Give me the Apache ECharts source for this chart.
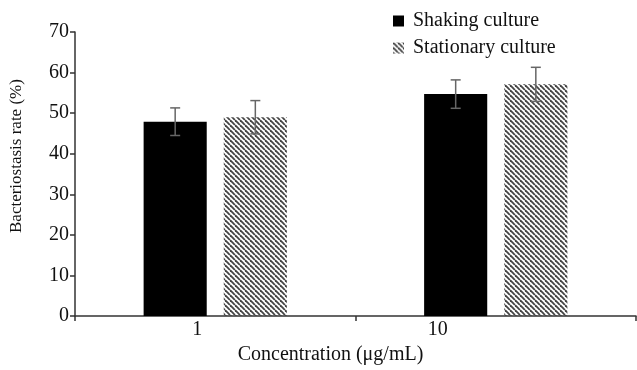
<!DOCTYPE html>
<html>
<head>
<meta charset="utf-8">
<script src="https://cdn.jsdelivr.net/npm/echarts@6/dist/echarts.min.js"></script>
<style>
  html, body { margin: 0; padding: 0; background: #fff; }
  #chart { width: 637px; height: 370px; }
</style>
</head>
<body>
<div id="chart"></div>
<script>
    // 浓度分组
    var categories = ["1", "10"];
    var shaking = [47.9, 54.7];
    var shakingErr = [3.4, 3.5];
    var stationary = [49.0, 57.1];
    var stationaryErr = [4.1, 4.2];
    var yTicks = [0, 10, 20, 30, 40, 50, 60, 70];

    var font = "'Liberation Serif', 'Times New Roman', serif";
    var barPct = 0.225, gapPct = 0.27;

    // 斜线填充
    function hatch() {
        var s = 5;
        var c = document.createElement("canvas");
        c.width = s; c.height = s;
        var ctx = c.getContext("2d");
        ctx.strokeStyle = "#444";
        ctx.lineWidth = 1.8;
        [-s, 0, s].forEach(function (k) {
            ctx.beginPath();
            ctx.moveTo(k, 0);
            ctx.lineTo(k + s, s);
            ctx.stroke();
        });
        return { image: c, repeat: "repeat" };
    }

    function errSeries(vals, errs, sign) {
        return {
            type: "custom",
            z: 5,
            renderItem: function (params, api) {
                var i = api.value(0), v = api.value(1), e = api.value(2);
                var band = api.size([1, 0])[0];
                var w = band * barPct, g = w * gapPct;
                var x = api.coord([i, v])[0] + sign * (w + g) / 2;
                var top = api.coord([i, v + e])[1];
                var bot = api.coord([i, v - e])[1];
                var st = { stroke: "#666", lineWidth: 1.5 };
                return {
                    type: "group",
                    children: [
                        { type: "line", shape: { x1: x, y1: top, x2: x, y2: bot }, style: st },
                        { type: "line", shape: { x1: x - 5, y1: top, x2: x + 5, y2: top }, style: st },
                        { type: "line", shape: { x1: x - 5, y1: bot, x2: x + 5, y2: bot }, style: st }
                    ]
                };
            },
            data: vals.map(function (v, i) { return [i, v, errs[i]]; })
        };
    }

    var chart = echarts.init(document.getElementById("chart"));
    var pattern = hatch();
    var labelShift = [36, 116];

    var option = {
        backgroundColor: "#fff",
        animation: false,
        grid: { left: 73, right: 1, top: 32, bottom: 49 },
        legend: {
            orient: "vertical",
            left: 393,
            top: 11,
            padding: 0,
            itemWidth: 11,
            itemHeight: 11,
            itemGap: 7,
            icon: "rect",
            textStyle: { fontFamily: font, fontSize: 20, color: "#111", padding: [0, 0, 0, 4] },
            data: ["Shaking culture", "Stationary culture"]
        },
        xAxis: {
            type: "category",
            data: categories,
            name: "Concentration (μg/mL)",
            nameLocation: "middle",
            nameGap: 28,
            nameTextStyle: { fontFamily: font, fontSize: 20, color: "#111", padding: [0, 50, 0, 0] },
            axisLine: { lineStyle: { color: "#333", width: 1.5 } },
            axisTick: { show: true, length: 5, lineStyle: { color: "#333", width: 1.5 } },
            axisLabel: {
                margin: 4,
                formatter: function (v, i) { return "{l" + i + "|" + v + "}"; },
                rich: {
                    l0: { fontFamily: font, fontSize: 20, color: "#111", padding: [0, labelShift[0], 0, 0] },
                    l1: { fontFamily: font, fontSize: 20, color: "#111", padding: [0, labelShift[1], 0, 0] }
                }
            }
        },
        yAxis: {
            type: "value",
            min: yTicks[0],
            max: yTicks[yTicks.length - 1],
            interval: 10,
            name: "Bacteriostasis rate (%)",
            nameLocation: "middle",
            nameGap: 50,
            nameTextStyle: { fontFamily: font, fontSize: 17, color: "#111", padding: [0, 0, 0, 36] },
            axisLine: { show: true, lineStyle: { color: "#333", width: 1.5 } },
            axisTick: { show: true, length: 5, lineStyle: { color: "#333", width: 1.5 } },
            splitLine: { show: false },
            axisLabel: { margin: 6, fontFamily: font, fontSize: 20, color: "#111" }
        },
        series: [
            {
                name: "Shaking culture",
                type: "bar",
                barWidth: "22.5%",
                barGap: "27%",
                itemStyle: { color: "#000" },
                data: shaking
            },
            {
                name: "Stationary culture",
                type: "bar",
                barWidth: "22.5%",
                barGap: "27%",
                itemStyle: { color: pattern },
                data: stationary
            },
            errSeries(shaking, shakingErr, -1),
            errSeries(stationary, stationaryErr, 1)
        ]
    };
    chart.setOption(option);
</script>
</body>
</html>
